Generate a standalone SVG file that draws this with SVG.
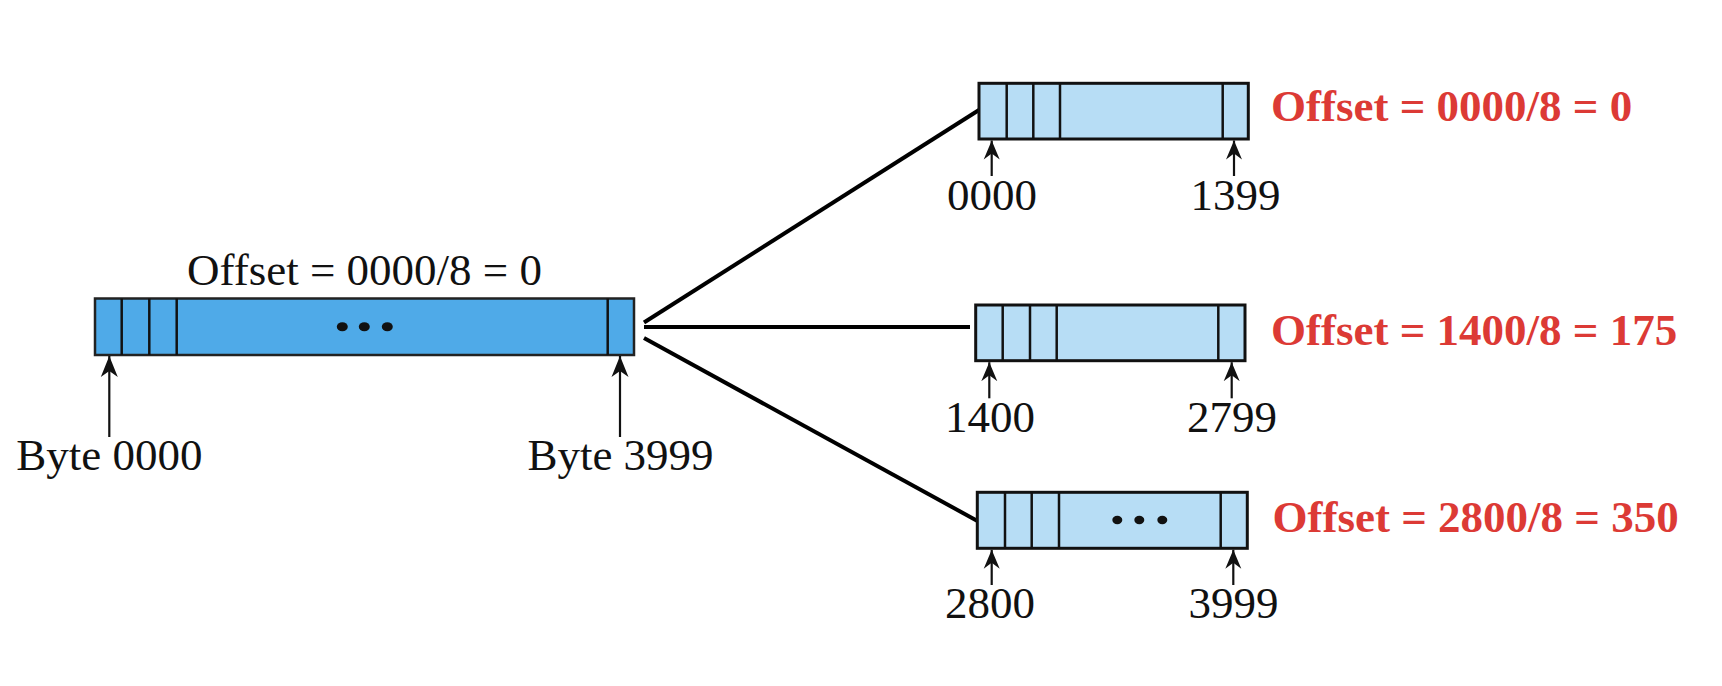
<svg xmlns="http://www.w3.org/2000/svg" width="1722" height="686" viewBox="0 0 1722 686">
  <style>
    .lbl { font-family: "Liberation Serif", "Times New Roman", serif; font-size: 45px; fill: #111; }
    .off { font-family: "Liberation Serif", "Times New Roman", serif; font-size: 45px; font-weight: bold; fill: #DC3A35; }
    .big { fill: #4FAAE8; stroke: #222; stroke-width: 2.5; }
    .frag { fill: #B7DDF5; stroke: #111; stroke-width: 3; }
    .div { stroke: #111; stroke-width: 2.5; }
    .ptr { stroke: #111; stroke-width: 2.2; fill: none; }
    .link { stroke: #000; stroke-width: 4; fill: none; }
    .dot { fill: #111; }
  </style>
  <defs>
    <marker id="headL" viewBox="-21 -9 22 18" refX="0" refY="0" markerWidth="22" markerHeight="18" markerUnits="userSpaceOnUse" orient="auto">
      <path d="M0,0 L-21,-8.5 L-15,0 L-21,8.5 Z" fill="#111"/>
    </marker>
    <marker id="headS" viewBox="-19 -8.5 20 17" refX="0" refY="0" markerWidth="20" markerHeight="17" markerUnits="userSpaceOnUse" orient="auto">
      <path d="M0,0 L-19,-8 L-13,0 L-19,8 Z" fill="#111"/>
    </marker>
  </defs>

  <rect width="1722" height="686" fill="#ffffff"/>

  <!-- original datagram -->
  <g id="datagram">
    <text class="lbl" x="364.5" y="285" text-anchor="middle">Offset = 0000/8 = 0</text>
    <rect class="big" x="95" y="298.5" width="539" height="56.5"/>
    <line class="div" x1="121.7" y1="298.5" x2="121.7" y2="355"/>
    <line class="div" x1="149.3" y1="298.5" x2="149.3" y2="355"/>
    <line class="div" x1="176.7" y1="298.5" x2="176.7" y2="355"/>
    <line class="div" x1="607.7" y1="298.5" x2="607.7" y2="355"/>
    <ellipse class="dot" cx="342.3" cy="326.7" rx="5.5" ry="4.5"/>
    <ellipse class="dot" cx="364.3" cy="326.7" rx="5.5" ry="4.5"/>
    <ellipse class="dot" cx="387.3" cy="326.7" rx="5.5" ry="4.5"/>
    <line class="ptr" x1="109.3" y1="437" x2="109.3" y2="356" marker-end="url(#headL)"/>
    <line class="ptr" x1="620" y1="437" x2="620" y2="356" marker-end="url(#headL)"/>
    <text class="lbl" x="109.3" y="470" text-anchor="middle">Byte 0000</text>
    <text class="lbl" x="620.5" y="470" text-anchor="middle">Byte 3999</text>
  </g>

  <!-- connectors from the datagram to its fragments -->
  <g id="connectors">
    <line class="link" x1="644" y1="322.5" x2="979" y2="110"/>
    <line class="link" x1="644" y1="327" x2="970" y2="327"/>
    <line class="link" x1="644" y1="338" x2="977.5" y2="521"/>
  </g>

  <!-- fragment 1 -->
  <g id="fragment1">
    <rect class="frag" x="979" y="83.3" width="269.3" height="55.7"/>
    <line class="div" x1="1006.7" y1="83.3" x2="1006.7" y2="139"/>
    <line class="div" x1="1033.3" y1="83.3" x2="1033.3" y2="139"/>
    <line class="div" x1="1060" y1="83.3" x2="1060" y2="139"/>
    <line class="div" x1="1222.7" y1="83.3" x2="1222.7" y2="139"/>
    <line class="ptr" x1="991.7" y1="176" x2="991.7" y2="140.5" marker-end="url(#headS)"/>
    <line class="ptr" x1="1234" y1="176" x2="1234" y2="140.5" marker-end="url(#headS)"/>
    <text class="lbl" x="992" y="210" text-anchor="middle">0000</text>
    <text class="lbl" x="1235.5" y="210" text-anchor="middle">1399</text>
    <text class="off" x="1271" y="120.7">Offset = 0000/8 = 0</text>
  </g>

  <!-- fragment 2 -->
  <g id="fragment2">
    <rect class="frag" x="975.7" y="305" width="269.3" height="55.7"/>
    <line class="div" x1="1002.7" y1="305" x2="1002.7" y2="360.7"/>
    <line class="div" x1="1030" y1="305" x2="1030" y2="360.7"/>
    <line class="div" x1="1056.7" y1="305" x2="1056.7" y2="360.7"/>
    <line class="div" x1="1218.3" y1="305" x2="1218.3" y2="360.7"/>
    <line class="ptr" x1="989.3" y1="398.3" x2="989.3" y2="362.2" marker-end="url(#headS)"/>
    <line class="ptr" x1="1231.7" y1="398.3" x2="1231.7" y2="362.2" marker-end="url(#headS)"/>
    <text class="lbl" x="990" y="431.7" text-anchor="middle">1400</text>
    <text class="lbl" x="1232" y="431.7" text-anchor="middle">2799</text>
    <text class="off" x="1271" y="345">Offset = 1400/8 = 175</text>
  </g>

  <!-- fragment 3 -->
  <g id="fragment3">
    <rect class="frag" x="977.3" y="492.3" width="270" height="56"/>
    <line class="div" x1="1005" y1="492.3" x2="1005" y2="548.3"/>
    <line class="div" x1="1031.7" y1="492.3" x2="1031.7" y2="548.3"/>
    <line class="div" x1="1059" y1="492.3" x2="1059" y2="548.3"/>
    <line class="div" x1="1220.7" y1="492.3" x2="1220.7" y2="548.3"/>
    <ellipse class="dot" cx="1117.3" cy="520" rx="5" ry="4.2"/>
    <ellipse class="dot" cx="1139.3" cy="520" rx="5" ry="4.2"/>
    <ellipse class="dot" cx="1162.3" cy="520" rx="5" ry="4.2"/>
    <line class="ptr" x1="991.7" y1="585" x2="991.7" y2="549.8" marker-end="url(#headS)"/>
    <line class="ptr" x1="1233.3" y1="585" x2="1233.3" y2="549.8" marker-end="url(#headS)"/>
    <text class="lbl" x="990" y="618.3" text-anchor="middle">2800</text>
    <text class="lbl" x="1233.5" y="618.3" text-anchor="middle">3999</text>
    <text class="off" x="1272.5" y="531.7">Offset = 2800/8 = 350</text>
  </g>
</svg>
